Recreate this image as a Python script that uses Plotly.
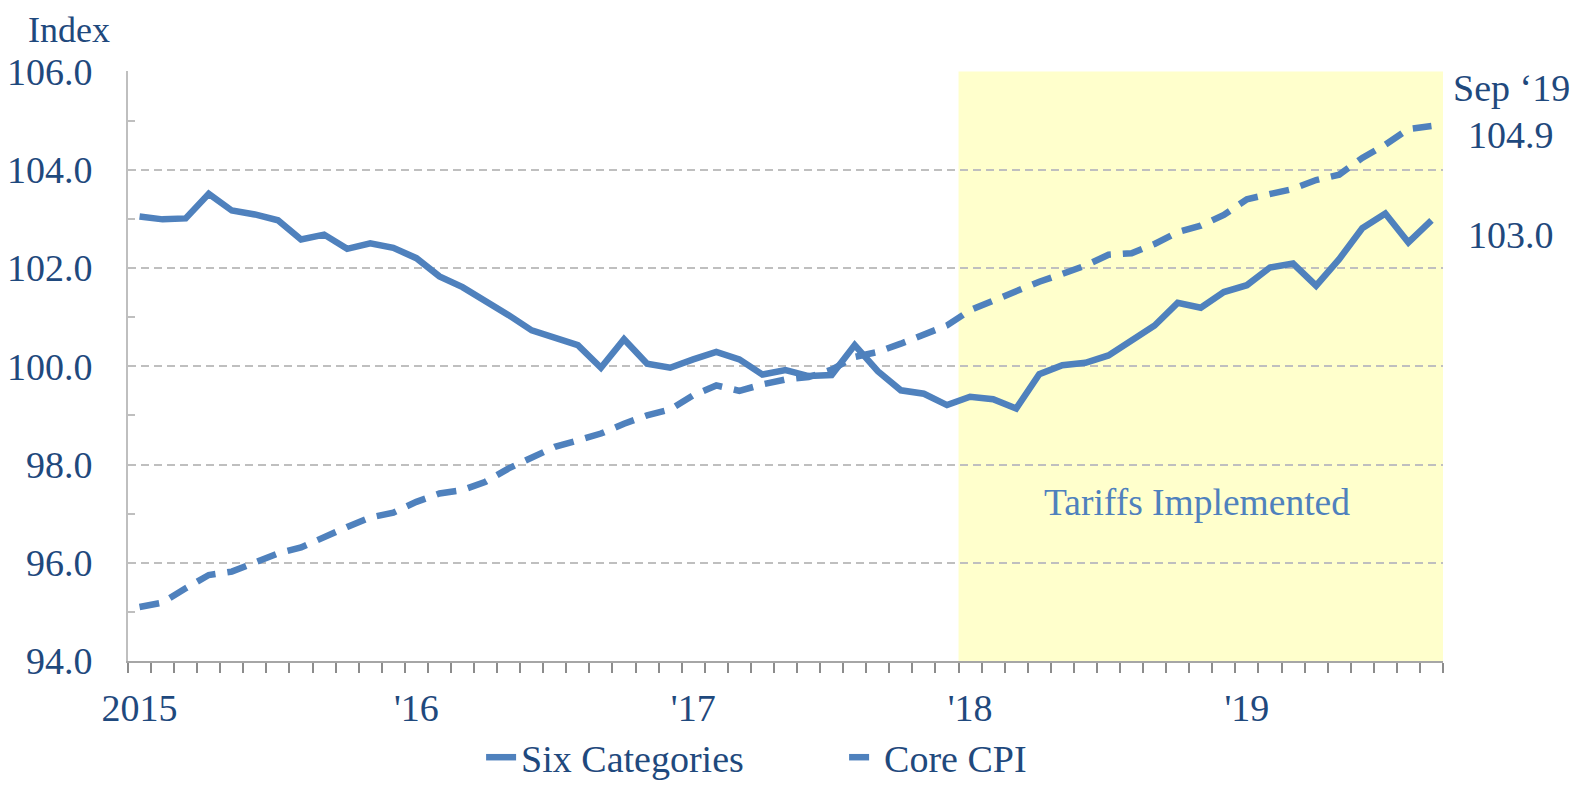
import plotly.graph_objects as go

# Monthly, Jan 2015 .. Sep 2019 (57 months), index 0..56
months = list(range(57))
six_categories = [103.05, 102.99, 103.01, 103.51, 103.17, 103.09, 102.97, 102.58, 102.68, 102.39,
                  102.50, 102.41, 102.20, 101.83, 101.61, 101.34, 101.04, 100.73, 100.58, 100.43,
                  99.97, 100.55, 100.05, 99.97, 100.14, 100.29, 100.14, 99.83, 99.92, 99.80,
                  99.82, 100.43, 99.90, 99.51, 99.44, 99.21, 99.38, 99.33, 99.14, 99.84,
                  100.02, 100.07, 100.22, 100.52, 100.83, 101.29, 101.19, 101.51, 101.65, 102.01,
                  102.09, 101.64, 102.18, 102.81, 103.11, 102.52, 102.97]
core_cpi = [95.10, 95.19, 95.48, 95.75, 95.82, 96.02, 96.19, 96.31, 96.53, 96.73,
            96.92, 97.02, 97.24, 97.41, 97.48, 97.65, 97.92, 98.14, 98.36, 98.49,
            98.63, 98.83, 99.00, 99.12, 99.41, 99.61, 99.50, 99.63, 99.73, 99.78,
            99.93, 100.19, 100.29, 100.46, 100.65, 100.83, 101.14, 101.34, 101.55, 101.72,
            101.88, 102.05, 102.27, 102.30, 102.49, 102.73, 102.86, 103.08, 103.40, 103.49,
            103.61, 103.79, 103.90, 104.24, 104.51, 104.83, 104.89]
year_tick_pos = [0, 12, 24, 36, 48]
year_tick_text = ["2015", "'16", "'17", "'18", "'19"]
tariff_start = 36  # Jan 2018

LINE = "#4F81BD"
TEXT = "#1F497D"
FONT = "Liberation Serif"
GRID = "#BFBFBF"
FS = 38

fig = go.Figure()
fig.add_trace(go.Scatter(x=months, y=six_categories, mode="lines", name="Six Categories",
                         line=dict(color=LINE, width=6.5)))
fig.add_trace(go.Scatter(x=months, y=core_cpi, mode="lines", name="Core CPI",
                         line=dict(color=LINE, width=6.5, dash="20px,12px")))

fig.add_shape(type="rect", xref="x", yref="y", x0=tariff_start - 0.5, x1=months[-1] + 0.5,
              y0=94, y1=106, fillcolor="#FFFFCC", line_width=0, layer="below")

fig.add_annotation(text="Tariffs Implemented", x=45.84, y=97.23, xref="x", yref="y",
                   xanchor="center", yanchor="middle",
                   showarrow=False, font=dict(family=FONT, size=37.5, color=LINE))
fig.add_annotation(text="Index", x=-0.045, y=1.1068, xref="paper", yref="paper",
                   xanchor="center", yanchor="top",
                   showarrow=False, font=dict(family=FONT, size=36, color=TEXT))
for txt, yv in [("Sep \u201819", 105.67),
                (f"{core_cpi[-1]:.1f}", 104.71),
                (f"{six_categories[-1]:.1f}", 102.67)]:
    fig.add_annotation(text=txt, x=1.052, y=yv, xref="paper", yref="y",
                       xanchor="center", yanchor="middle",
                       showarrow=False, font=dict(family=FONT, size=FS, color=TEXT))

fig.update_layout(
    width=1577, height=781,
    margin=dict(l=120, r=142, t=63, b=128, autoexpand=False),
    paper_bgcolor="white", plot_bgcolor="white",
    font=dict(family=FONT, size=FS, color=TEXT),
    showlegend=True,
    legend=dict(orientation="h", x=0.300, xref="container", xanchor="left",
                y=0.0, yref="container", yanchor="bottom",
                font=dict(family=FONT, size=FS, color=TEXT), entrywidth=318,
                bgcolor="rgba(0,0,0,0)"),
    xaxis=dict(range=[-0.5, 56.5], tickmode="array", tickvals=year_tick_pos,
               ticktext=year_tick_text, ticks="", showgrid=False, zeroline=False,
               showline=True, linecolor="#A6A6A6", linewidth=2, automargin=False,
               ticklabelstandoff=12,
               tickfont=dict(family=FONT, size=FS, color=TEXT),
               minor=dict(tick0=-0.5, dtick=1, ticks="outside", ticklen=10,
                          tickcolor="#8C8C8C", tickwidth=1.5, showgrid=False)),
    yaxis=dict(range=[94, 106.01], dtick=2, tick0=94, tickformat=".1f",
               showgrid=True, gridcolor=GRID, griddash="8px,5px", gridwidth=1.5,
               zeroline=False, showline=True, linecolor=GRID, linewidth=2,
               ticks="inside", ticklen=7, tickcolor=GRID, tickwidth=1.5,
               ticklabelstandoff=26, automargin=False,
               tickfont=dict(family=FONT, size=FS, color=TEXT),
               minor=dict(dtick=1, ticks="inside", ticklen=7, tickcolor=GRID,
                          tickwidth=1.5, showgrid=False)),
)

fig.write_html("out.html")
